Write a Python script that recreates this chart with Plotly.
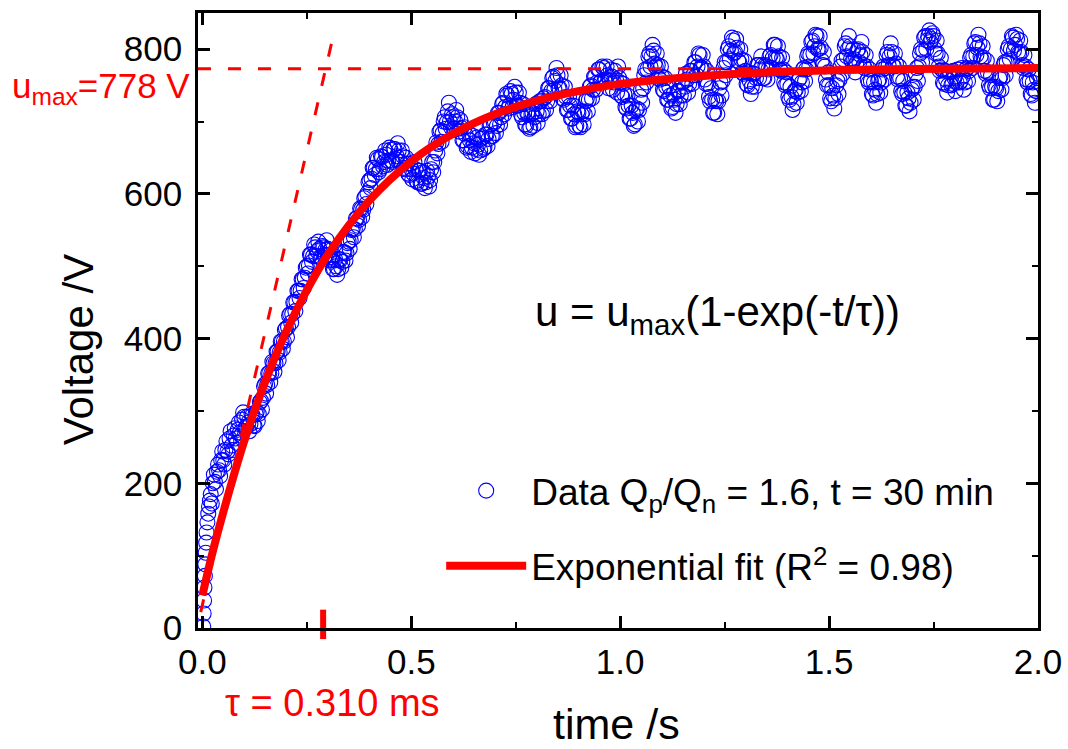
import numpy as np
import plotly.graph_objects as go

FONT = "Liberation Sans, Arial, sans-serif"

# ---- data ----
onset_t = [0.002, 0.003, 0.004, 0.005, 0.006, 0.007, 0.008, 0.009, 0.010, 0.012, 0.014, 0.016, 0.018]
onset_u = [2, 20, 38, 56, 72, 88, 104, 118, 132, 146, 158, 168, 176]

# measured voltage, t = 0.0200 ... 2.0000 s in 0.005 s steps
voltage_main = [
    185, 200, 202, 216, 218, 232, 232, 246, 244, 262, 252, 266, 262, 274, 270, 288, 292, 278, 284, 282,
    294, 279, 299, 296, 314, 318, 337, 336, 352, 352, 366, 366, 382, 381, 396, 396, 414, 416, 434, 434,
    450, 451, 466, 466, 482, 484, 500, 501, 516, 514, 526, 521, 524, 511, 526, 523, 524, 508, 509, 496,
    500, 496, 509, 506, 519, 518, 534, 536, 552, 551, 566, 564, 579, 578, 596, 601, 619, 621, 636, 634,
    648, 634, 651, 644, 654, 646, 661, 644, 662, 652, 660, 644, 652, 634, 642, 626, 634, 628, 634, 616,
    632, 614, 622, 616, 624, 619, 644, 644, 671, 669, 688, 684, 706, 699, 726, 692, 706, 700, 706, 686,
    691, 674, 682, 666, 674, 664, 670, 662, 668, 660, 678, 664, 682, 676, 696, 680, 700, 694, 712, 706,
    726, 720, 736, 722, 738, 730, 740, 722, 726, 706, 712, 694, 709, 692, 712, 706, 714, 710, 728, 714,
    734, 728, 746, 742, 762, 756, 764, 746, 750, 730, 734, 716, 722, 704, 710, 694, 712, 692, 714, 710,
    732, 730, 750, 744, 762, 754, 772, 756, 774, 758, 764, 756, 762, 754, 758, 776, 754, 734, 738, 718,
    722, 704, 712, 696, 718, 716, 744, 746, 772, 772, 794, 790, 798, 776, 778, 758, 762, 742, 748, 730,
    736, 720, 730, 724, 742, 736, 754, 748, 758, 752, 770, 764, 782, 776, 792, 774, 776, 752, 752, 728,
    730, 712, 728, 728, 754, 756, 782, 782, 804, 798, 812, 796, 802, 782, 786, 766, 770, 750, 756, 748,
    766, 760, 778, 772, 778, 760, 776, 772, 792, 788, 806, 786, 790, 770, 772, 750, 752, 730, 734, 724,
    744, 740, 760, 754, 774, 772, 794, 792, 812, 804, 818, 800, 802, 778, 776, 750, 750, 728, 736, 732,
    756, 758, 784, 786, 808, 800, 804, 782, 786, 780, 800, 792, 796, 774, 776, 754, 756, 736, 744, 738,
    758, 754, 776, 774, 796, 790, 796, 776, 780, 758, 760, 738, 740, 722, 732, 726, 748, 748, 774, 776,
    800, 798, 818, 812, 826, 814, 818, 794, 794, 770, 772, 752, 758, 750, 768, 752, 760, 754, 772, 756,
    762, 754, 774, 770, 792, 790, 810, 802, 808, 786, 788, 766, 768, 746, 748, 730, 746, 742, 762, 760,
    782, 782, 804, 800, 816, 806, 814, 794, 796, 774, 776, 754, 756, 736, 744, 742, 766,
]
# in-between samples, t = 0.0225 ... 1.9975 s in 0.005 s steps
voltage_mid = [
    172, 212, 192, 226, 210, 244, 226, 258, 240, 272, 246, 276, 256, 284, 266, 298, 276, 292, 272, 296,
    280, 296, 286, 312, 302, 334, 324, 352, 340, 368, 354, 382, 370, 396, 386, 412, 402, 432, 422, 450,
    438, 466, 456, 482, 470, 498, 490, 516, 506, 530, 514, 534, 512, 528, 514, 536, 512, 522, 496, 510,
    488, 510, 498, 520, 508, 532, 524, 550, 540, 566, 556, 580, 568, 594, 586, 616, 608, 636, 626, 650,
    630, 652, 638, 660, 640, 664, 646, 662, 648, 670, 644, 660, 636, 650, 628, 642, 620, 644, 618, 632,
    614, 630, 608, 632, 610, 634, 630, 660, 656, 686, 672, 700, 690, 714, 700, 710, 690, 716, 690, 702,
    674, 692, 664, 684, 658, 680, 656, 678, 654, 676, 662, 682, 666, 694, 680, 698, 684, 712, 696, 724,
    710, 738, 718, 742, 720, 748, 722, 740, 710, 724, 696, 712, 690, 710, 694, 724, 698, 728, 710, 732,
    716, 746, 728, 760, 744, 774, 746, 764, 732, 748, 716, 734, 704, 722, 692, 714, 694, 710, 696, 728,
    714, 748, 732, 762, 744, 772, 754, 776, 756, 776, 746, 772, 744, 770, 740, 760, 736, 752, 720, 736,
    704, 722, 694, 716, 700, 734, 726, 764, 754, 790, 776, 806, 780, 794, 760, 776, 744, 760, 730, 748,
    718, 738, 712, 742, 724, 754, 736, 766, 740, 770, 752, 782, 764, 794, 774, 792, 758, 770, 734, 746,
    712, 730, 710, 746, 736, 774, 764, 800, 786, 816, 794, 814, 784, 800, 768, 784, 752, 768, 738, 766,
    748, 778, 760, 790, 760, 778, 758, 790, 774, 806, 788, 804, 772, 788, 754, 768, 734, 748, 716, 742,
    726, 758, 742, 772, 756, 790, 776, 810, 794, 820, 800, 818, 784, 796, 758, 768, 732, 746, 718, 750,
    738, 776, 766, 804, 790, 818, 786, 800, 768, 798, 782, 810, 778, 792, 758, 772, 738, 754, 726, 756,
    740, 772, 758, 792, 778, 808, 778, 794, 762, 776, 742, 756, 722, 740, 714, 744, 730, 766, 756, 794,
    782, 816, 800, 818, 810, 822, 800, 812, 776, 788, 754, 770, 740, 768, 750, 770, 742, 772, 754, 774,
    744, 772, 756, 788, 774, 808, 792, 820, 790, 804, 770, 784, 750, 764, 730, 748, 728, 760, 744, 778,
    764, 800, 786, 818, 798, 820, 796, 812, 778, 792, 758, 772, 738, 754, 726, 760,
]
time_main = list(np.round(0.02 + 0.005 * np.arange(len(voltage_main)), 4))
time_mid = list(np.round(0.0225 + 0.005 * np.arange(len(voltage_mid)), 4))

time_s = onset_t + time_main + time_mid
voltage_V = onset_u + voltage_main + voltage_mid

# exponential fit curve
fit_t = [0.0, 0.025, 0.05, 0.1, 0.15, 0.2, 0.25, 0.3, 0.4, 0.5, 0.6, 0.7, 0.8, 0.9, 1.0, 1.2, 1.4, 1.6, 1.8, 2.0]
fit_u = [45, 106, 160, 258, 340, 409, 467, 516, 591, 645, 683, 710, 729, 742, 752, 763, 769, 772, 773, 774]

# guide lines
umax_level = 773
hline_t = [-0.0105, 2.0]
tangent_t = [-0.004, 0.313]
tangent_u = [22, 818]
tau_mark_t = 0.289

x_range = [-0.0105, 2.0]
y_range = [0, 850]
x_ticks = [0.0, 0.5, 1.0, 1.5, 2.0]
x_ticklabels = ["0.0", "0.5", "1.0", "1.5", "2.0"]
y_ticks = [0, 200, 400, 600, 800]

RED = "#FF0000"
BLUE = "#0000FF"

fig = go.Figure()

fig.add_trace(go.Scatter(
    x=time_s, y=voltage_V, mode="markers",
    name="Data Q<sub>p</sub>/Q<sub>n</sub> = 1.6, t = 30 min",
    legendgroup="a",
    marker=dict(symbol="circle-open", size=15, color=BLUE, line=dict(width=1.1, color=BLUE)),
))
fig.add_trace(go.Scatter(
    x=fit_t, y=fit_u, mode="lines", line_shape="spline",
    name="Exponential fit (R<sup>2</sup> = 0.98)",
    legendgroup="b",
    line=dict(color=RED, width=8),
))
fig.add_trace(go.Scatter(
    x=hline_t, y=[umax_level, umax_level], mode="lines", showlegend=False,
    line=dict(color=RED, width=3, dash="13px,17px"),
))
fig.add_trace(go.Scatter(
    x=tangent_t, y=tangent_u, mode="lines", showlegend=False,
    line=dict(color=RED, width=3, dash="13px,17px"),
))
fig.add_trace(go.Scatter(
    x=[tau_mark_t], y=[5], mode="markers", showlegend=False, cliponaxis=False,
    marker=dict(symbol="line-ns", size=21, color=RED, line=dict(width=6, color=RED)),
))

axis_common = dict(
    showline=True, linecolor="black", linewidth=2.5, mirror="ticks",
    ticks="inside", ticklen=12, tickwidth=2.5, tickcolor="black",
    showgrid=False, zeroline=False, automargin=False,
    tickfont=dict(family=FONT, size=35, color="black"),
)

fig.update_xaxes(range=x_range, tickvals=x_ticks, ticktext=x_ticklabels, ticklabelstandoff=1,
                 minor=dict(ticks="inside", ticklen=6, tickwidth=2, tickcolor="black", dtick=0.25, tick0=0),
                 **axis_common)
fig.update_yaxes(range=y_range, tickvals=y_ticks, ticklabelstandoff=6,
                 minor=dict(ticks="inside", ticklen=6, tickwidth=2, tickcolor="black", dtick=100, tick0=0),
                 **axis_common)

fig.update_layout(
    width=1068, height=749,
    margin=dict(l=198, r=30, t=13, b=121, autoexpand=False),
    paper_bgcolor="white", plot_bgcolor="white",
    font=dict(family=FONT, color="black"),
    legend=dict(
        x=0.2895, y=0.273, xanchor="left", yanchor="top",
        font=dict(family=FONT, size=37, color="black"),
        bgcolor="rgba(0,0,0,0)", itemwidth=80, tracegroupgap=24,
    ),
    annotations=[
        dict(text="Voltage /V", xref="paper", yref="paper", x=-0.1425, y=0.452,
             textangle=-90, showarrow=False, xanchor="center", yanchor="middle",
             font=dict(family=FONT, size=42, color="black")),
        dict(text="time /s", xref="paper", yref="paper", x=0.4985, y=-0.156,
             showarrow=False, xanchor="center", yanchor="middle",
             font=dict(family=FONT, size=43, color="black")),
        dict(text="u = u<sub>max</sub>(1-exp(-t/\u03c4))", xref="paper", yref="paper",
             x=0.399, y=0.51, showarrow=False, xanchor="left", yanchor="middle",
             font=dict(family=FONT, size=42, color="black")),
        dict(text="u<sub>max</sub>=778 V", xref="paper", yref="paper",
             x=-0.0071, y=0.878, showarrow=False, xanchor="right", yanchor="middle",
             font=dict(family=FONT, size=35, color=RED)),
        dict(text="\u03c4 = 0.310 ms", xref="paper", yref="paper",
             x=0.160, y=-0.122, showarrow=False, xanchor="center", yanchor="middle",
             font=dict(family=FONT, size=38, color=RED)),
    ],
)

fig.write_html("out.html", config={"displayModeBar": False},
               post_script="document.body.style.margin='0';")
